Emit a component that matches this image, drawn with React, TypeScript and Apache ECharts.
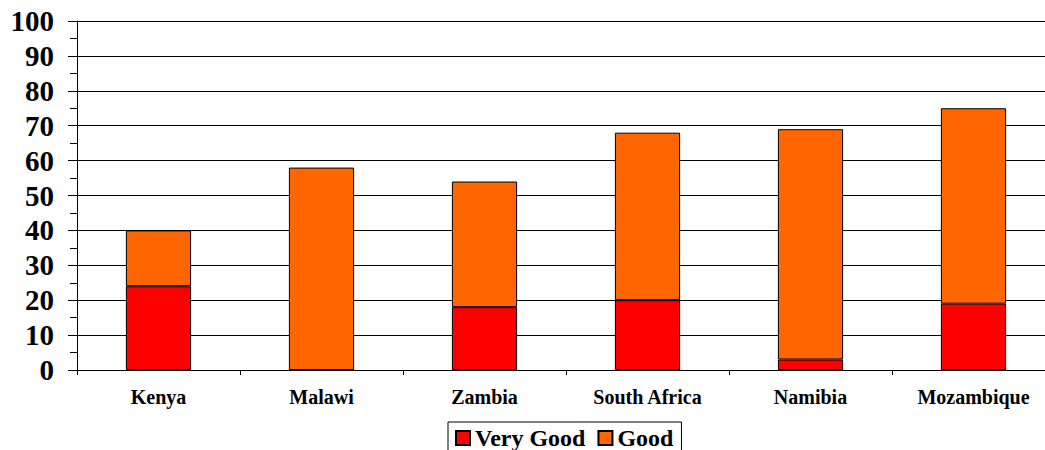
import React, { useEffect, useRef } from "react";
import * as echarts from "echarts";

const categories = ["Kenya", "Malawi", "Zambia", "South Africa", "Namibia", "Mozambique"];
const veryGood = [24, 0, 18, 20, 3, 19];
const good = [16, 58, 36, 48, 66, 56];
const yTicks = { min: 0, max: 100, interval: 10 };

const FONT = "'Liberation Serif', 'Times New Roman', serif";

export default function App() {
  const ref = useRef<HTMLDivElement>(null);
  useEffect(() => {
    if (!ref.current) return;
    const chart = echarts.init(ref.current, null, { renderer: "svg" });
    chart.setOption({
      animation: false,
      backgroundColor: "#fff",
      grid: { left: 77, right: 10, top: 21, bottom: 80, containLabel: false },
      legend: {
        left: 448,
        top: 422,
        padding: [4, 8, 6, 7],
        borderColor: "#000",
        borderWidth: 1,
        itemWidth: 14,
        itemHeight: 14,
        itemGap: 12,
        icon: "rect",
        textStyle: { fontFamily: FONT, fontWeight: "bold", fontSize: 24, lineHeight: 20, color: "#000" },
        data: ["Very Good", "Good"],
      },
      xAxis: {
        type: "category",
        data: categories,
        axisLine: { lineStyle: { color: "#000", width: 1 } },
        axisTick: { show: true, length: 5, alignWithLabel: false, lineStyle: { color: "#000" } },
        axisLabel: { fontFamily: FONT, fontWeight: "bold", fontSize: 20, color: "#000", margin: 17 },
      },
      yAxis: {
        type: "value",
        min: yTicks.min,
        max: yTicks.max,
        interval: yTicks.interval,
        axisLine: { show: true, lineStyle: { color: "#000", width: 1 } },
        axisTick: { show: true, length: 9, lineStyle: { color: "#000" } },
        minorTick: { show: true, splitNumber: 2, length: 7, lineStyle: { color: "#000" } },
        splitLine: { show: true, lineStyle: { color: "#000", width: 1 } },
        axisLabel: { fontFamily: FONT, fontWeight: "bold", fontSize: 29, color: "#000", margin: 23 },
      },
      series: [
        {
          name: "Very Good",
          type: "bar",
          stack: "total",
          data: veryGood,
          barCategoryGap: "60%",
          itemStyle: { color: "#ff0000", borderColor: "#000", borderWidth: 1 },
        },
        {
          name: "Good",
          type: "bar",
          stack: "total",
          data: good,
          barCategoryGap: "60%",
          itemStyle: { color: "#ff6600", borderColor: "#000", borderWidth: 1 },
        },
      ],
    });
    return () => chart.dispose();
  }, []);
  return (
    <div style={{ width: 1045, height: 450, position: "absolute", left: 0, top: 0, overflow: "hidden" }}>
      <div ref={ref} style={{ width: 1065, height: 450, position: "absolute", left: 0, top: 0 }} />
    </div>
  );
}
